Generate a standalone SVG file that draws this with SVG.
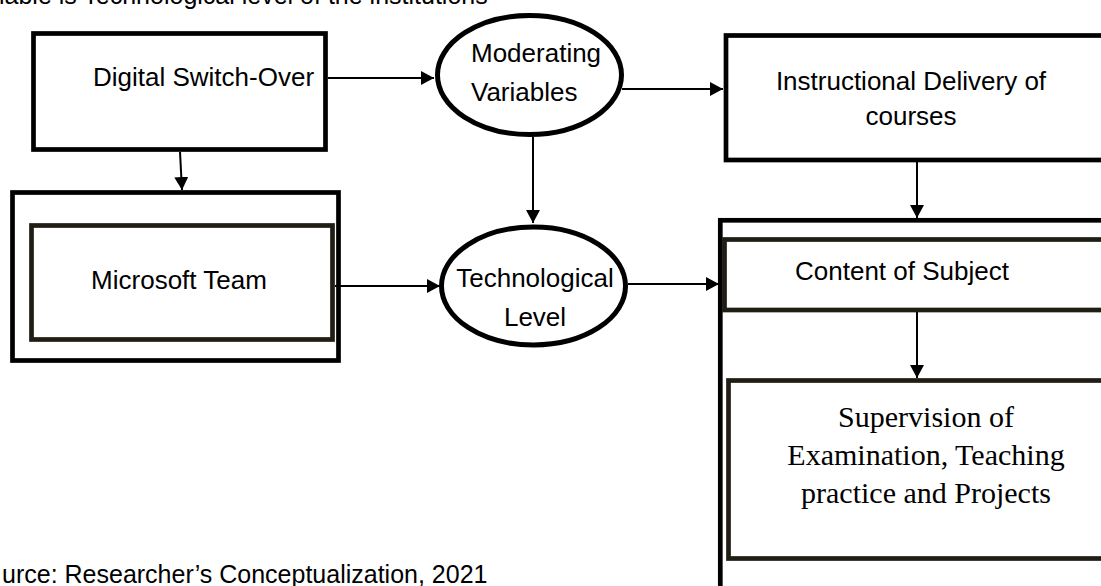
<svg xmlns="http://www.w3.org/2000/svg" width="1101" height="586" viewBox="0 0 1101 586">
<style>
.bg{fill:#fff}
.box{fill:#fff;stroke:#000;stroke-width:4.7}
.inner{fill:#fff;stroke:#201d15;stroke-width:4.7}
.ell{fill:#fff;stroke:#000;stroke-width:5}
.t{font-family:"Liberation Sans",Arial,sans-serif;font-size:26px;fill:#000}
.s{font-family:"Liberation Serif","Times New Roman",serif;font-size:30px;fill:#000}
.cap{font-family:"Liberation Sans",Arial,sans-serif;font-size:25px;fill:#000}
.c{fill:none;stroke:#000;stroke-width:2;marker-end:url(#ah)}
</style>
<defs>
<marker id="ah" markerUnits="userSpaceOnUse" markerWidth="14" markerHeight="15" refX="13" refY="7" orient="auto">
<path d="M0,0 L13,7 L0,14 z" fill="#000"/>
</marker>
</defs>
<rect class="bg" x="0" y="0" width="1101" height="586"/>
<text class="cap" x="-1" y="4">iable is Technological level of the institutions</text>
<g id="digital">
<rect class="box" x="33.5" y="33.5" width="292" height="116"/>
<text class="t" x="93" y="86">Digital Switch-Over</text>
</g>
<g id="microsoft">
<rect class="box" x="12.5" y="192.5" width="326" height="168"/>
<rect class="inner" x="31.5" y="225.5" width="301" height="114"/>
<text class="t" x="179" y="289" text-anchor="middle">Microsoft Team</text>
</g>
<g id="moderating">
<ellipse class="ell" cx="529.5" cy="75" rx="92" ry="59.5"/>
<text class="t" x="471" y="62">Moderating</text>
<text class="t" x="471" y="101">Variables</text>
</g>
<g id="technological">
<ellipse class="ell" cx="533.5" cy="286" rx="92" ry="59"/>
<text class="t" x="535" y="287" text-anchor="middle">Technological</text>
<text class="t" x="535" y="326" text-anchor="middle">Level</text>
</g>
<g id="instructional">
<rect class="box" x="726" y="35.5" width="400" height="124.5"/>
<text class="t" x="911" y="90" text-anchor="middle">Instructional Delivery of</text>
<text class="t" x="911" y="125" text-anchor="middle">courses</text>
</g>
<g id="outcome">
<rect class="box" x="720.3" y="220.3" width="400" height="400"/>
</g>
<g id="content">
<rect class="inner" x="724.5" y="239.5" width="400" height="70.5"/>
<text class="t" x="795" y="280">Content of Subject</text>
</g>
<g id="supervision">
<rect class="inner" x="728.5" y="380.5" width="400" height="178"/>
<text class="s" x="926" y="427" text-anchor="middle">Supervision of</text>
<text class="s" x="926" y="465" text-anchor="middle">Examination, Teaching</text>
<text class="s" x="926" y="503" text-anchor="middle">practice and Projects</text>
</g>
<g id="connectors">
<path class="c" d="M328,78 L434,78"/>
<path class="c" d="M180,152 L182,190"/>
<path class="c" d="M622,89 L723,89"/>
<path class="c" d="M533,137 L533,223"/>
<path class="c" d="M335,286 L440,286"/>
<path class="c" d="M628,284 L719,284"/>
<path class="c" d="M917,162 L917,218"/>
<path class="c" d="M917,312 L917,378"/>
</g>
<text class="cap" x="2" y="583">urce: Researcher’s Conceptualization, 2021</text>
</svg>
